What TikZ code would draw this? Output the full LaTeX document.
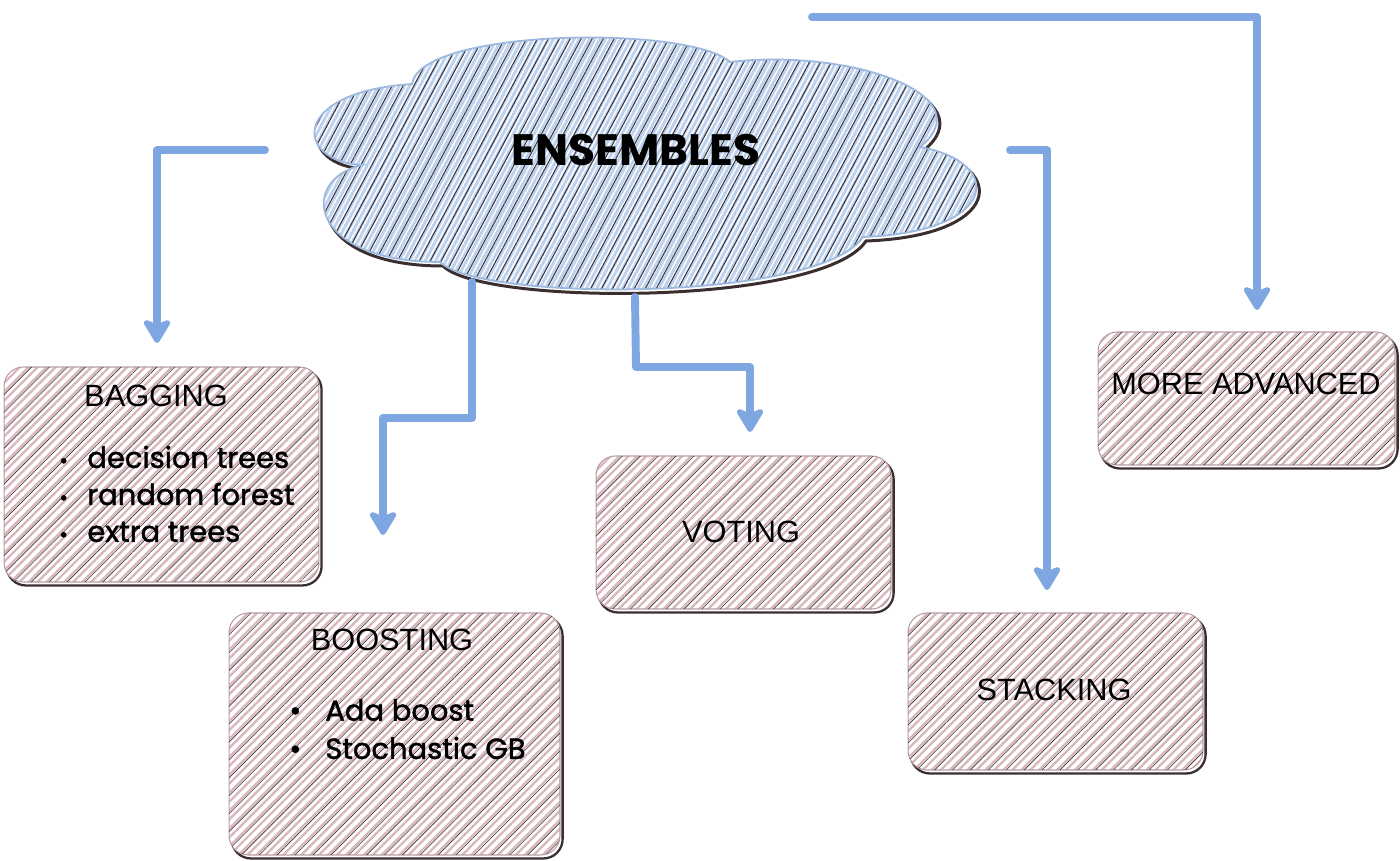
\documentclass[tikz,border=0pt]{standalone}
\usepackage{fontspec}
\setmainfont{Liberation Sans}
\newfontfamily\comic[FakeBold=1.5]{Poppins}
\newfontfamily\comichead{Poppins}
\usetikzlibrary{patterns.meta,arrows.meta}
\definecolor{arr}{HTML}{7EA6E0}
\definecolor{pinkh}{HTML}{D9B6BB}
\definecolor{pinkline}{HTML}{B89CA4}
\definecolor{dk}{HTML}{3A2E2E}
\definecolor{bluef}{HTML}{BCD2EE}
\definecolor{cloudline}{HTML}{9DB8DF}
\begin{document}
\begin{tikzpicture}[x=0.02cm,y=-0.02cm,
  conn/.style={arr, line width=4.5pt, line cap=round, line join=round,
    -{Stealth[length=16pt,width=19pt,inset=4pt,round]}},
  box/.style 2 args={rounded corners=11pt, minimum width=#1, minimum height=#2,
    inner sep=0pt, draw=pinkline, line width=0.6pt,
    preaction={draw=dk, line width=1.3pt, transform canvas={xshift=1.5pt,yshift=-2pt}},
    preaction={fill=white},
    pattern={Lines[angle=45,distance=3.6pt,line width=1.3pt]}, pattern color=pinkh,
    postaction={pattern={Lines[angle=45,distance=7.2pt,line width=0.35pt,xshift=1.6pt]}, pattern color=dk}},
  title/.style={inner sep=0pt, font=\fontsize{17.5}{20}\selectfont},
  item/.style={inner sep=0pt, anchor=west, font=\comic\fontsize{16.5}{19}\selectfont},
  head/.style={inner sep=0pt, font=\comichead\bfseries\fontsize{25}{28}\selectfont}
]
\useasboundingbox (0,0) rectangle (1400,861);

% ---------- cloud ----------
\def\cloudpath{(362,165) .. controls (295,162) and (288,92) .. (412,84)
  .. controls (420,28) and (690,25) .. (730,62)
  .. controls (850,48) and (985,95) .. (920,147)
  .. controls (1005,162) and (1000,232) .. (863,237)
  .. controls (820,302) and (480,302) .. (440,262)
  .. controls (308,262) and (298,180) .. (362,165) -- cycle}
\draw[dk, line width=1.7pt, shift={(3,4)}] \cloudpath;
\fill[bluef] \cloudpath;
\path[pattern={Lines[angle=62,distance=2.6pt,line width=0.8pt]}, pattern color=white] \cloudpath;
\path[pattern={Lines[angle=62,distance=5.5pt,line width=0.55pt,xshift=1pt]}, pattern color=dk] \cloudpath;
\draw[cloudline, line width=1pt] \cloudpath;
\node[head] (ens) at (636,150) {ENSEMBLES};

% ---------- boxes ----------
\node[box={6.3cm}{4.3cm}] (bag) at (161.5,474.5) {};
\node[box={6.62cm}{4.84cm}] (boost) at (394.5,734) {};
\node[box={5.9cm}{3.06cm}] (vote) at (743.5,532.5) {};
\node[box={5.9cm}{3.14cm}] (stack) at (1055.5,691.5) {};
\node[box={5.94cm}{2.66cm}] (adv) at (1246.5,398.5) {};

% ---------- texts ----------
\node[title] (bagT) at (156,396) {BAGGING};
\node[item] (bag1) at (59,457) {\makebox[0.56cm][l]{\fontsize{12}{12}\selectfont\textbullet}decision trees};
\node[item] (bag2) at (59,494) {\makebox[0.56cm][l]{\fontsize{12}{12}\selectfont\textbullet}random forest};
\node[item] (bag3) at (59,532) {\makebox[0.56cm][l]{\fontsize{12}{12}\selectfont\textbullet}extra trees};

\node[title] (boostT) at (392,640) {BOOSTING};
\node[item] (boost1) at (289,710) {\makebox[0.72cm][l]{\textbullet}Ada boost};
\node[item] (boost2) at (289,748) {\makebox[0.72cm][l]{\textbullet}Stochastic GB};

\node[title] (voteT) at (741,532) {VOTING};
\node[title] (stackT) at (1054,690) {STACKING};
\node[title] (advT) at (1246,384) {MORE ADVANCED};

% ---------- connectors ----------
\coordinate (a1s) at (265,150); \coordinate (a1e) at (157,343);
\coordinate (a2s) at (472,282); \coordinate (a2m) at (472,418); \coordinate (a2e) at (383,535);
\coordinate (a3s) at (635,297); \coordinate (a3m) at (636,367); \coordinate (a3e) at (750,432);
\coordinate (a4s) at (1010,150); \coordinate (a4e) at (1047,590);
\coordinate (a5s) at (812,17); \coordinate (a5e) at (1257,310);

\draw[conn] (a1s) -| (a1e);
\draw[conn] (a2s) -- (a2m) -| (a2e);
\draw[conn] (a3s) -- (a3m) -| (a3e);
\draw[conn] (a4s) -| (a4e);
\draw[conn] (a5s) -| (a5e);
\end{tikzpicture}
\end{document}
